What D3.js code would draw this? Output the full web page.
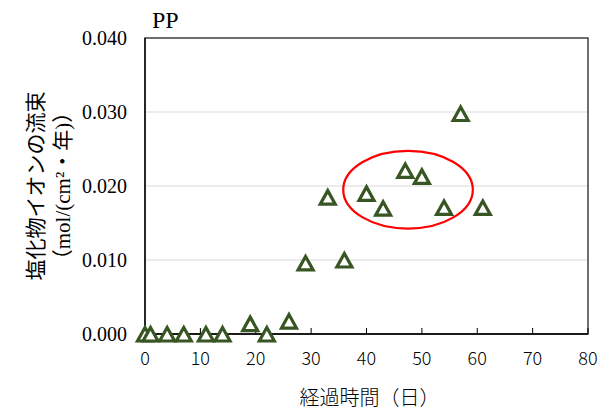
<!DOCTYPE html>
<html>
<head>
<meta charset="utf-8">
<script src="https://cdn.jsdelivr.net/npm/d3@7"></script>
<style>
  body { margin: 0; background: #fff; }
  svg { display: block; }
  .ytick text { font-family: "Liberation Serif", serif; font-size: 20px; fill: #000; }
  .xtick text { font-family: "Noto Sans CJK JP", "Noto Sans", sans-serif; font-size: 18px; font-weight: 300; fill: #000; }
  .grid line { stroke: #d9d9d9; stroke-width: 1; }
</style>
</head>
<body>
<svg id="chart" width="609" height="412"></svg>
<script>
// Data
const days = [0, 1, 4, 7, 11, 14, 19, 22, 26, 29, 33, 36, 40, 43, 47, 50, 54, 57, 61];
const flux = [0, 0, 0, 0, 0, 0, 0.0014, 0, 0.00175, 0.0096, 0.0185, 0.0100, 0.0190, 0.0170, 0.0221, 0.0213, 0.0171, 0.0298, 0.0171];
const xTicks = [0, 10, 20, 30, 40, 50, 60, 70, 80];
const yTicks = [0, 0.01, 0.02, 0.03, 0.04];
// highlighted group: centre and radii in data units
const ringCentre = [47.5, 0.0195];
const ringRadius = [11.7, 0.00525];

const svg = d3.select("#chart");
const plotL = 145, plotR = 588, plotT = 38, plotB = 334;

const x = d3.scaleLinear().domain([0, 80]).range([plotL, plotR]);
const y = d3.scaleLinear().domain([0, 0.04]).range([plotB, plotT]);

// gridlines
svg.append("g")
  .attr("class", "grid")
  .selectAll("line")
  .data(yTicks.filter(d => d > 0 && d < 0.04))
  .enter()
  .append("line")
  .attr("x1", plotL)
  .attr("x2", plotR)
  .attr("y1", d => y(d))
  .attr("y2", d => y(d));

// plot frame
svg.append("rect")
  .attr("x", plotL)
  .attr("y", plotT)
  .attr("width", plotR - plotL)
  .attr("height", plotB - plotT)
  .attr("fill", "none")
  .attr("stroke", "#3f3f3f")
  .attr("stroke-width", 1.5);

// y axis labels
svg.append("g")
  .attr("class", "ytick")
  .selectAll("text")
  .data(yTicks)
  .enter()
  .append("text")
  .attr("x", plotL - 18)
  .attr("y", d => y(d) + 7)
  .attr("text-anchor", "end")
  .text(d => d3.format(".3f")(d));

// x axis ticks (inside) and labels
let xg = svg.append("g").attr("class", "xtick");
xg.selectAll("line")
  .data(xTicks.filter(d => d > 0))
  .enter()
  .append("line")
  .attr("x1", d => x(d))
  .attr("x2", d => x(d))
  .attr("y1", plotB)
  .attr("y2", plotB - 6)
  .attr("stroke", "#000")
  .attr("stroke-width", 1);
xg.selectAll("text")
  .data(xTicks)
  .enter()
  .append("text")
  .attr("x", d => x(d))
  .attr("y", 365)
  .attr("text-anchor", "middle")
  .text(d => d);

// axis lines
svg.append("line")
  .attr("x1", plotL).attr("x2", plotR)
  .attr("y1", plotB).attr("y2", plotB)
  .attr("stroke", "#000").attr("stroke-width", 1.3);
svg.append("line")
  .attr("x1", plotL).attr("x2", plotL)
  .attr("y1", plotT).attr("y2", plotB)
  .attr("stroke", "#000").attr("stroke-width", 1.3);

// markers
svg.append("g")
  .selectAll("path")
  .data(days.map((d, i) => [d, flux[i]]))
  .enter()
  .append("path")
  .attr("transform", d => `translate(${x(d[0])},${y(d[1])})`)
  .attr("d", "M0,-6.5L7.5,7L-7.5,7Z")
  .attr("fill", "#fff")
  .attr("stroke", "#375623")
  .attr("stroke-width", 3.2)
  .attr("stroke-linejoin", "miter");

// red ring around the cluster
svg.append("ellipse")
  .attr("cx", x(ringCentre[0]))
  .attr("cy", y(ringCentre[1]))
  .attr("rx", x(ringCentre[0] + ringRadius[0]) - x(ringCentre[0]))
  .attr("ry", y(ringCentre[1] - ringRadius[1]) - y(ringCentre[1]))
  .attr("fill", "none")
  .attr("stroke", "#ff0000")
  .attr("stroke-width", 2.2);

// title
svg.append("text")
  .attr("x", 152)
  .attr("y", 28)
  .attr("font-family", "Liberation Serif, serif")
  .attr("font-size", 24)
  .text("PP");

// axis titles
svg.append("text")
  .attr("x", (plotL + plotR) / 2 + 3)
  .attr("y", 405)
  .attr("text-anchor", "middle")
  .attr("font-family", "Noto Sans CJK JP, sans-serif")
  .attr("font-size", 20)
  .attr("font-weight", 300)
  .attr("fill", "#000")
  .text("経過時間（日）");

let yt = svg.append("text")
  .attr("transform", `translate(0,${(plotT + plotB) / 2}) rotate(-90)`)
  .attr("text-anchor", "middle")
  .attr("font-family", "Liberation Serif, Noto Sans CJK JP, serif")
  .attr("font-size", 21)
  .attr("fill", "#000");
yt.append("tspan").attr("x", 0).attr("y", 43).text("塩化物イオンの流束");
yt.append("tspan").attr("x", 0).attr("y", 70).text("（mol/(cm²・年)）");
</script>
</body>
</html>
